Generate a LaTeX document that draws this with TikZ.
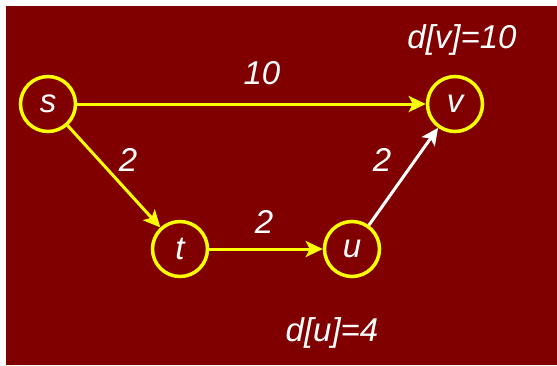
\documentclass[tikz,border=0pt]{standalone}
\usepackage{fontspec}
\setmainfont{Liberation Sans}
\usetikzlibrary{arrows.meta}
\definecolor{bgred}{HTML}{800000}
\definecolor{yel}{HTML}{FFFF00}
\begin{document}
\begin{tikzpicture}[x=1pt,y=-1pt,
  vtx/.style={circle,draw=yel,line width=3.5pt,minimum size=55pt,inner sep=0pt,text=white,font=\fontsize{33}{33}\selectfont\itshape},
  lbl/.style={text=white,font=\fontsize{33}{33}\selectfont\itshape,inner sep=0pt},
  yarr/.style={draw=yel,line width=3pt,-{Stealth[length=17pt,width=16pt,inset=4pt]}},
  warr/.style={draw=white,line width=3pt,-{Stealth[length=17pt,width=16pt,inset=4pt]}}]
\useasboundingbox (0,0) rectangle (557,365);
\fill[white] (0,0) rectangle (557,365);
\fill[bgred] (6,6) rectangle (557,365);
\node[vtx] (s) at (48,104) {s};
\node[vtx] (v) at (455,104) {v};
\node[vtx] (t) at (180,249) {t};
\node[vtx] (u) at (352,249) {u};
\draw[yarr] (s) -- (v);
\draw[yarr] (s) -- (t);
\draw[yarr] (t) -- (u);
\draw[warr] (u) -- (v);
\node[lbl] (l1) at (262,73) {10};
\node[lbl] (l2) at (128,160) {2};
\node[lbl] (l3) at (264,222) {2};
\node[lbl] (l4) at (382,160) {2};
\node[lbl] (dv) at (462,40) {d[v]=10};
\node[lbl] (du) at (332,333) {d[u]=4};
\end{tikzpicture}
\end{document}
